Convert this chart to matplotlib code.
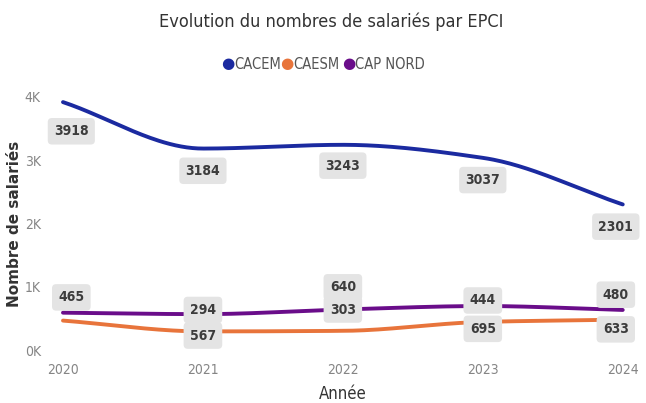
import numpy as np
import matplotlib.pyplot as plt

years = [2020, 2021, 2022, 2023, 2024]
cacem = [3918, 3184, 3243, 3037, 2301]
caesm = [465, 294, 303, 444, 480]
cap_nord = [590, 567, 640, 695, 633]
y_ticks = [0, 1000, 2000, 3000, 4000]
y_tick_labels = ["0K", "1K", "2K", "3K", "4K"]

c_cacem = "#1b2aa0"
c_caesm = "#e8743b"
c_capn = "#6a0d8a"

cond = dict(family="DejaVu Sans", fontstretch="condensed")


def pchip(x, y, n=200):
    x = np.asarray(x, float)
    y = np.asarray(y, float)
    h = np.diff(x)
    d = np.diff(y) / h
    m = np.zeros_like(y)
    for k in range(1, len(x) - 1):
        if d[k - 1] * d[k] > 0:
            w1 = 2 * h[k] + h[k - 1]
            w2 = h[k] + 2 * h[k - 1]
            m[k] = (w1 + w2) / (w1 / d[k - 1] + w2 / d[k])
    m[0] = d[0]
    m[-1] = d[-1]
    xs = np.linspace(x[0], x[-1], n)
    idx = np.clip(np.searchsorted(x, xs) - 1, 0, len(x) - 2)
    t = (xs - x[idx]) / h[idx]
    h00 = 2 * t**3 - 3 * t**2 + 1
    h10 = t**3 - 2 * t**2 + t
    h01 = -2 * t**3 + 3 * t**2
    h11 = t**3 - t**2
    ys = h00 * y[idx] + h10 * h[idx] * m[idx] + h01 * y[idx + 1] + h11 * h[idx] * m[idx + 1]
    return xs, ys


fig = plt.figure(figsize=(6.46, 4.03), dpi=100)
ax = fig.add_axes([0.0975, 0.1315, 0.8665, 0.628])

for vals, col in [(caesm, c_caesm), (cap_nord, c_capn), (cacem, c_cacem)]:
    xs, ys = pchip(years, vals)
    ax.plot(xs, ys, color=col, lw=2.8, solid_capstyle="round", clip_on=False)

box = dict(boxstyle="round,pad=0.45,rounding_size=0.3", fc="#e4e4e4", ec="none")
lab_kw = dict(ha="center", va="center", fontsize=10, fontweight="bold",
              color="#3c3c3c", textcoords="offset points", bbox=box, **cond)

# CACEM labels, below the line
cacem_off = [-21, -16, -15, -16, -16]
for x, v, o in zip(years, cacem, cacem_off):
    ax.annotate(str(v), (x, v), xytext=(6 if x == 2020 else (-5 if x == 2024 else 0), o), **lab_kw)

# small series labels, placed like the original
caesm_off = [(cap_nord[0], 11), (cap_nord[1], 3), (cap_nord[2], 0), (cap_nord[3], 4), (cap_nord[4], 11)]
capn_off = [None, (caesm[1], -3), (cap_nord[2], 16), (caesm[3], -5), (caesm[4], -7)]
for i, x in enumerate(years):
    base, o = caesm_off[i]
    ax.annotate(str(caesm[i]), (x, base), xytext=(6 if x == 2020 else (-5 if x == 2024 else 0), o), **lab_kw)
    if capn_off[i] is not None:
        base, o = capn_off[i]
        ax.annotate(str(cap_nord[i]), (x, base), xytext=(-5 if x == 2024 else 0, o), **lab_kw)

ax.set_xlim(2020, 2024)
ax.set_ylim(0, 4000)
ax.set_xticks(years)
ax.set_xticklabels([str(y) for y in years], **cond)
ax.set_yticks(y_ticks)
ax.set_yticklabels(y_tick_labels, **cond)
ax.tick_params(length=0, labelsize=10, labelcolor="#858585")
ax.tick_params(axis="x", pad=9)
ax.tick_params(axis="y", pad=16)
for s in ax.spines.values():
    s.set_visible(False)

ax.set_xlabel("Année", fontsize=12, color="#333333", labelpad=6, **cond)
ax.set_ylabel("Nombre de salariés", fontsize=11, fontweight="bold", color="#333333", labelpad=2)

fig.text(0.513, 0.945, "Evolution du nombres de salariés par EPCI", ha="center", va="center",
         fontsize=13, color="#333333", **cond)

# legend
leg_x = [0.353, 0.444, 0.540]
names = ["CACEM", "CAESM", "CAP NORD"]
cols = [c_cacem, c_caesm, c_capn]
for lx, nm, col in zip(leg_x, names, cols):
    fig.text(lx, 0.842, "\u25cf", color=col, fontsize=11, ha="center", va="center")
    fig.text(lx + 0.01, 0.84, nm, color="#555555", fontsize=10.5, ha="left", va="center", **cond)

fig.savefig("out.png", dpi=100)
